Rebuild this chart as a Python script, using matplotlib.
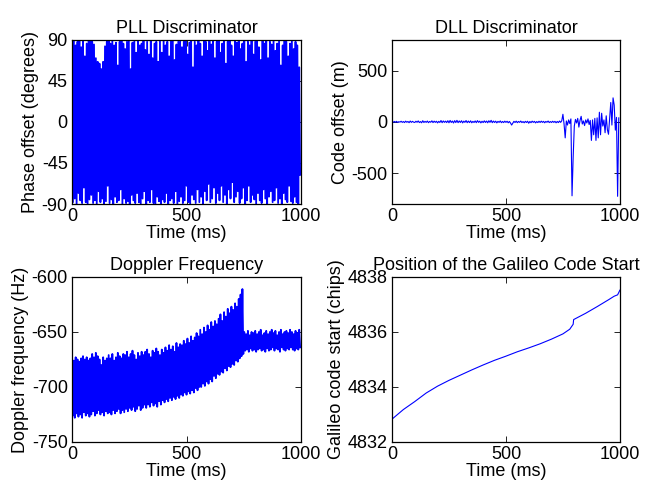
import matplotlib
matplotlib.use("Agg")
import matplotlib.pyplot as plt
import numpy as np

# PLL discriminator output (degrees): alternating peak values every 4 ms
pll_high = [86, 89, 84, 88, 90, 82, 88, 72, 86, 89,
            90, 88, 85, 70, 66, 64, 58, 66, 83, 88,
            89, 86, 90, 84, 87, 62, 88, 90, 86, 80,
            88, 90, 58, 87, 89, 76, 90, 84, 86, 90,
            79, 88, 74, 90, 70, 86, 88, 66, 89, 76,
            90, 84, 88, 72, 89, 90, 68, 85, 88, 90,
            82, 88, 90, 74, 87, 90, 60, 88, 84, 90,
            86, 72, 90, 88, 78, 89, 85, 90, 70, 88,
            90, 76, 86, 89, 64, 88, 90, 84, 72, 90,
            87, 90, 80, 86, 90, 66, 88, 84, 90, 74,
            88, 90, 82, 68, 89, 86, 90, 70, 88, 85,
            90, 78, 86, 89, 62, 84, 90, 88, 72, 86,
            90, 80, 88, 84, 60]
pll_low = [-88, -84, -90, -78, -86, -89, -72, -88, -90, -85,
           -80, -89, -86, -90, -76, -88, -84, -90, -87, -70,
           -89, -85, -90, -82, -88, -86, -74, -90, -84, -89,
           -87, -90, -80, -86, -89, -78, -88, -90, -84, -76,
           -90, -86, -88, -74, -89, -90, -82, -87, -90, -85,
           -88, -78, -90, -86, -84, -89, -76, -90, -87, -82,
           -89, -86, -70, -88, -90, -80, -85, -89, -74, -88,
           -82, -90, -76, -86, -68, -88, -84, -72, -89, -78,
           -86, -70, -88, -80, -90, -74, -84, -66, -88, -82,
           -76, -89, -84, -72, -90, -86, -70, -88, -80, -85,
           -90, -78, -86, -89, -74, -84, -90, -82, -76, -88,
           -86, -72, -89, -84, -90, -78, -85, -88, -70, -87,
           -89, -82, -88, -90, -58]

# DLL discriminator output (m), one value every 5 ms
dll_vals = [2, -4, 5, -3, 6, -5, 3, -2, 7, -4,
            4, -6, 8, -3, 5, -7, 9, -4, 6, -2,
            -5, 7, -3, 10, -6, 4, -8, 12, -5, 6,
            -4, 9, -7, 5, -3, 11, -6, 8, -4, 7,
            -9, 6, -5, 14, -7, 10, -4, 8, -6, 12,
            -8, 15, -5, 9, -10, 13, -6, 16, -7, 10,
            -5, 12, -9, 8, -4, 14, -7, 9, -6, 11,
            -8, 6, -5, 10, -7, 13, -4, 8, -9, 7,
            -6, 11, -5, 9, -8, 12, -4, 16, -7, 9,
            -5, 8, -9, 6, -4, 10, -7, 5, -6, 8,
            -4, 7, -8, 5, -10, -30, -12, 6, -5, 8,
            -7, 5, -4, 9, -6, 4, -8, 6, -5, 7,
            -12, 5, -7, 8, -4, 6, -9, 4, -6, 7,
            -5, 8, -4, 6, -8, 5, -3, 9, -6, 4,
            -5, 7, -4, 6, -8, 5, -6, 9, -4, 12,
            75, -20, -155, 10, -30, 20, -15, 30, -720, -340,
            -40, 25, -10, 35, -50, 15, 55, -20, 10, -35,
            20, -10, 30, -25, 15, -180, 20, -125, 35, -180,
            40, -155, 95, -125, 85, -40, 20, -105, 60, -75,
            -120, 40, 190, -30, 235, 165, -80, 45, -725, 40]

# Doppler frequency (Hz): alternating band edges every 4 ms
dop_high = [-674, -676, -673, -675, -677, -674, -672, -675, -673, -676,
            -674, -670, -673, -669, -672, -675, -680, -673, -676, -674,
            -671, -674, -670, -676, -673, -669, -672, -674, -670, -671,
            -668, -673, -670, -667, -671, -675, -669, -672, -668, -671,
            -668, -666, -670, -673, -667, -669, -665, -668, -671, -666,
            -669, -664, -667, -662, -666, -663, -668, -660, -664, -661,
            -662, -658, -661, -656, -660, -654, -658, -655, -651, -654,
            -648, -652, -646, -650, -644, -648, -641, -645, -640, -643,
            -638, -634, -640, -632, -636, -629, -633, -627, -630, -624,
            -627, -620, -616, -611, -650, -652, -649, -653, -650, -651,
            -649, -652, -650, -648, -653, -651, -649, -652, -650, -648,
            -651, -649, -653, -650, -648, -652, -650, -649, -651, -648,
            -650, -652, -649, -651, -648]
dop_low = [-726, -728, -724, -727, -725, -728, -723, -726, -724, -727,
           -725, -722, -726, -724, -721, -725, -723, -726, -722, -724,
           -723, -725, -721, -724, -722, -720, -724, -721, -723, -720,
           -722, -719, -721, -718, -722, -720, -717, -721, -719, -716,
           -719, -716, -718, -714, -717, -715, -718, -713, -716, -712,
           -714, -711, -713, -710, -712, -709, -711, -708, -710, -707,
           -708, -705, -707, -704, -706, -703, -705, -701, -703, -700,
           -700, -697, -699, -695, -697, -693, -695, -690, -692, -688,
           -689, -686, -687, -683, -685, -681, -682, -679, -680, -676,
           -677, -674, -672, -670, -667, -666, -668, -665, -667, -666,
           -668, -666, -665, -667, -666, -668, -665, -667, -666, -664,
           -667, -665, -666, -668, -664, -666, -667, -665, -666, -664,
           -666, -667, -665, -666, -664]

# Code start position (chips)
code_t = [0, 50, 100, 150, 200, 250, 300, 350, 400, 450, 500, 550, 600,
          650, 700, 750, 780, 795, 797, 820, 850, 900, 950, 975, 990, 1000]
code_pos = [4832.83, 4833.18, 4833.47, 4833.78, 4834.03, 4834.24, 4834.43,
            4834.62, 4834.80, 4834.97, 4835.12, 4835.28, 4835.42, 4835.57,
            4835.74, 4835.93, 4836.10, 4836.28, 4836.45, 4836.55, 4836.68,
            4836.92, 4837.17, 4837.30, 4837.35, 4837.52]


def interleave(high, low):
    out = np.empty(len(high) + len(low))
    out[0::2] = high
    out[1::2] = low
    return out


plt.rcParams['font.family'] = ['Liberation Sans', 'DejaVu Sans']
plt.rcParams['font.size'] = 13
plt.rcParams['axes.titlesize'] = 13
plt.rcParams['axes.unicode_minus'] = False

fig = plt.figure(figsize=(6.53, 4.84), dpi=100)

boxes = [[0.1103, 0.5785, 0.3507, 0.339],
         [0.6003, 0.5785, 0.3490, 0.339],
         [0.1103, 0.0868, 0.3507, 0.341],
         [0.6003, 0.0868, 0.3490, 0.341]]
axs = [fig.add_axes(b) for b in boxes]

pll = interleave(pll_high, pll_low)
axs[0].plot(np.arange(len(pll)) * 4, pll, color='b', lw=1.3)
axs[0].set_ylim(-90, 90)
axs[0].set_yticks([-90, -45, 0, 45, 90])
axs[0].set_title('PLL Discriminator', pad=5)
axs[0].set_ylabel('Phase offset (degrees)', labelpad=2)

axs[1].plot(np.arange(len(dll_vals)) * 5, dll_vals, color='b', lw=0.8)
axs[1].set_ylim(-800, 800)
axs[1].set_yticks([-500, 0, 500])
axs[1].set_title('DLL Discriminator', pad=5)
axs[1].set_ylabel('Code offset (m)', labelpad=2)

dop = interleave(dop_high, dop_low)
axs[2].plot(np.arange(len(dop)) * 4, dop, color='b', lw=1.3)
axs[2].set_ylim(-750, -600)
axs[2].set_yticks([-750, -700, -650, -600])
axs[2].set_title('Doppler Frequency', pad=5)
axs[2].set_ylabel('Doppler frequency (Hz)', labelpad=2)

axs[3].plot(code_t, code_pos, color='b', lw=0.8)
axs[3].set_ylim(4832, 4838)
axs[3].set_yticks([4832, 4834, 4836, 4838])
axs[3].set_title('Position of the Galileo Code Start', pad=5)
axs[3].set_ylabel('Galileo code start (chips)', labelpad=2)
axs[3].ticklabel_format(useOffset=False)

for ax in axs:
    ax.set_xlim(0, 1000)
    ax.set_xticks([0, 500, 1000])
    ax.set_xlabel('Time (ms)', labelpad=0)
    ax.tick_params(direction='in', top=True, right=True, length=4, width=0.6, pad=3)
    for s in ax.spines.values():
        s.set_linewidth(0.9)

fig.savefig('out.png', dpi=100)
